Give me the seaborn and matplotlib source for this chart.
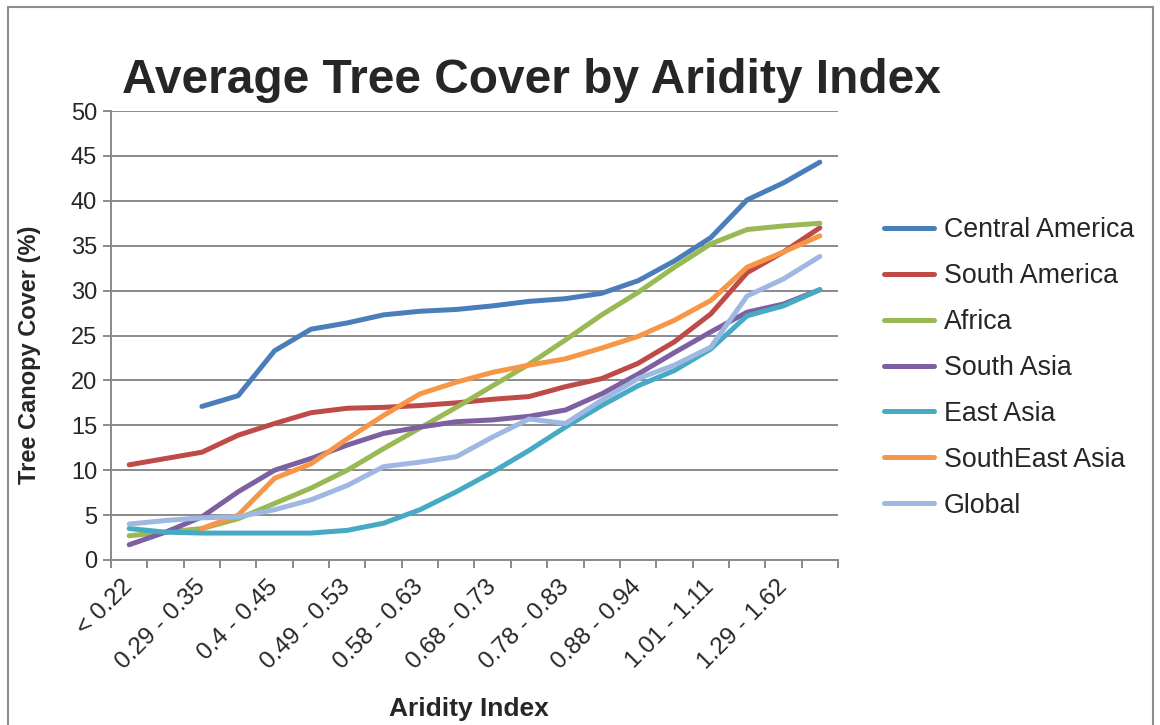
import numpy as np
import pandas as pd
import matplotlib
matplotlib.use("Agg")
import matplotlib.pyplot as plt
import seaborn as sns

categories = ["< 0.22", "0.22 - 0.29", "0.29 - 0.35", "0.35 - 0.4", "0.4 - 0.45",
              "0.45 - 0.49", "0.49 - 0.53", "0.53 - 0.58", "0.58 - 0.63", "0.63 - 0.68",
              "0.68 - 0.73", "0.73 - 0.78", "0.78 - 0.83", "0.83 - 0.88", "0.88 - 0.94",
              "0.94 - 1.01", "1.01 - 1.11", "1.11 - 1.29", "1.29 - 1.62", "> 1.62"]
nan = np.nan
central_america = [nan, nan, 17.1, 18.3, 23.3, 25.7, 26.4, 27.3, 27.7, 27.9,
                   28.3, 28.8, 29.1, 29.7, 31.1, 33.3, 35.9, 40.1, 42.0, 44.3]
south_america = [10.6, 11.3, 12.0, 13.9, 15.2, 16.4, 16.9, 17.0, 17.2, 17.5,
                 17.9, 18.2, 19.3, 20.2, 21.9, 24.3, 27.4, 32.0, 34.3, 37.0]
africa = [2.7, 3.1, 3.5, 4.6, 6.3, 8.0, 10.0, 12.4, 14.7, 17.0,
          19.4, 21.8, 24.5, 27.3, 29.8, 32.6, 35.2, 36.8, 37.2, 37.5]
south_asia = [1.7, 3.1, 4.8, 7.6, 10.0, 11.3, 12.8, 14.1, 14.8, 15.4,
              15.6, 16.0, 16.7, 18.5, 20.7, 23.1, 25.4, 27.6, 28.5, 30.1]
east_asia = [3.5, 3.1, 3.0, 3.0, 3.0, 3.0, 3.3, 4.1, 5.6, 7.6,
             9.8, 12.2, 14.8, 17.2, 19.4, 21.1, 23.5, 27.2, 28.3, 30.1]
southeast_asia = [nan, nan, 3.5, 5.0, 9.1, 10.7, 13.5, 16.1, 18.5, 19.8,
                  20.9, 21.7, 22.4, 23.6, 24.9, 26.7, 28.9, 32.6, 34.3, 36.1]
global_avg = [4.0, 4.4, 4.7, 4.8, 5.6, 6.7, 8.3, 10.4, 10.9, 11.5,
              13.7, 15.7, 15.2, 17.8, 20.2, 21.7, 23.7, 29.4, 31.3, 33.8]

series_names = ["Central America", "South America", "Africa", "South Asia",
                "East Asia", "SouthEast Asia", "Global"]
series_values = [central_america, south_america, africa, south_asia,
                 east_asia, southeast_asia, global_avg]
colors = ["#4A7EBB", "#BE4B48", "#98B954", "#7D60A0", "#46AAC5", "#F79646", "#9FB8E2"]

rows = []
for name, vals in zip(series_names, series_values):
    for i, v in enumerate(vals):
        if not np.isnan(v):
            rows.append({"idx": i, "region": name, "cover": v})
df = pd.DataFrame(rows)

sns.set_theme(style="white")
plt.rcParams["font.family"] = ["Liberation Sans", "DejaVu Sans"]

W, H = 1160, 725
fig = plt.figure(figsize=(W / 100, H / 100), dpi=100)
ax = fig.add_axes([111 / W, 1 - 560 / H, (838 - 111) / W, (560 - 111) / H])

sns.lineplot(data=df, x="idx", y="cover", hue="region", hue_order=series_names,
             palette=dict(zip(series_names, colors)), linewidth=3.6, ax=ax,
             legend=True, solid_capstyle="round", solid_joinstyle="round")

gc = "#8A8A8A"
ax.set_xlim(-0.5, len(categories) - 0.5)
ax.set_ylim(0, 50)
ax.set_yticks(np.arange(0, 51, 5))
ax.yaxis.grid(True, color=gc, linewidth=1.4)
ax.xaxis.grid(False)
ax.set_axisbelow(True)
for s in ["top", "right"]:
    ax.spines[s].set_visible(False)
for s in ["left", "bottom"]:
    ax.spines[s].set_color(gc)
    ax.spines[s].set_linewidth(1.4)

ax.set_xticks(np.arange(0, len(categories), 2))
ax.set_xticklabels(categories[::2], rotation=45, ha="right", va="center",
                   rotation_mode="anchor", fontsize=17.5)
ax.set_xticks(np.arange(-0.5, len(categories), 1), minor=True)
ax.tick_params(axis="x", which="major", length=0, pad=17)
ax.tick_params(axis="x", which="minor", length=6, width=1.4, color=gc, direction="out")
ax.tick_params(axis="y", length=6, width=1.4, color=gc, direction="out", pad=4, labelsize=17)
ax.tick_params(bottom=True, left=True, which="both")
ax.set_xlabel("")
ax.set_ylabel("")

handles, labels = ax.get_legend_handles_labels()
ax.legend(handles, labels, frameon=False, loc="center left",
          bbox_to_anchor=(884 / W, 1 - 368 / H), bbox_transform=fig.transFigure,
          fontsize=19.3, handlelength=1.85, handletextpad=0.38, labelspacing=0.74,
          borderpad=0, borderaxespad=0)

fig.text(531 / W, 1 - 93 / H, "Average Tree Cover by Aridity Index", fontsize=34.5,
         fontweight="bold", ha="center", va="baseline")
fig.text(30 / W, 1 - 355 / H, "Tree Canopy Cover (%)", fontsize=17, fontweight="bold",
         rotation=90, ha="center", va="center")
fig.text(469 / W, 1 - 716 / H, "Aridity Index", fontsize=19, fontweight="bold",
         ha="center", va="baseline")

border = plt.Rectangle((8 / W, -0.02), (1153 - 8) / W, 1 - 7 / H + 0.02,
                       transform=fig.transFigure, fill=False, edgecolor="#8C8C8C",
                       linewidth=1.5)
fig.patches.append(border)

fig.savefig("out.png", dpi=100)
